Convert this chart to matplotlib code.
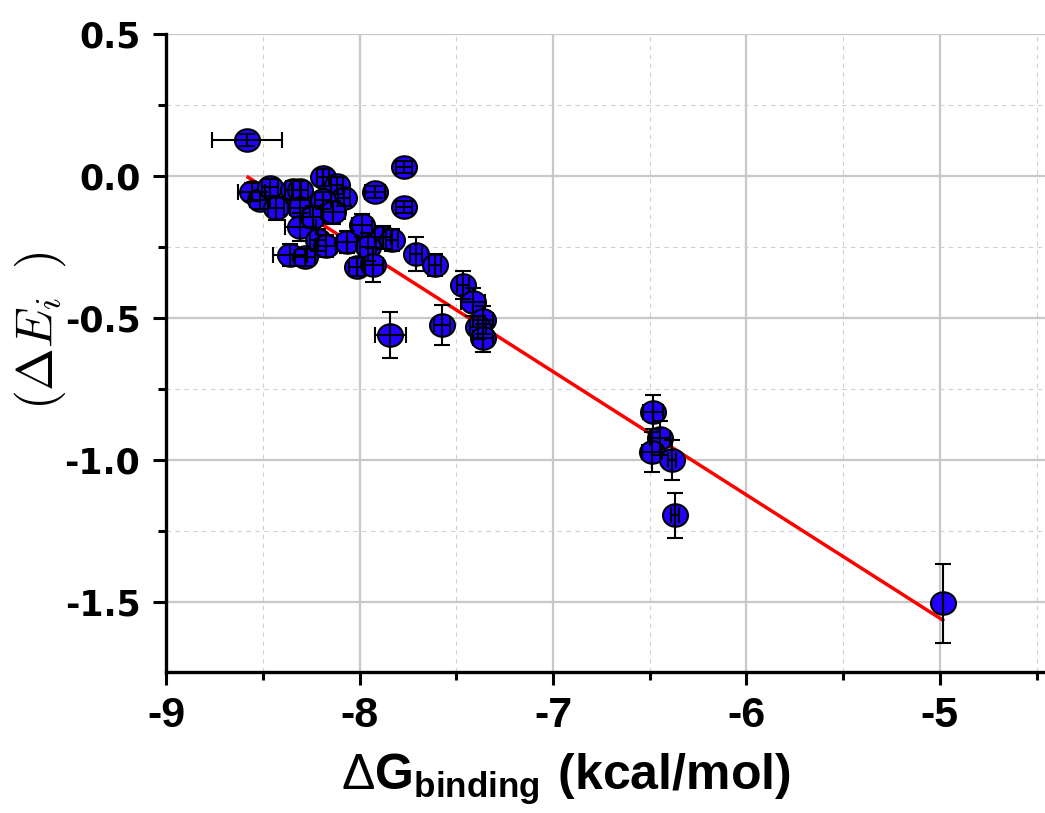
import matplotlib
matplotlib.use("Agg")
import matplotlib.pyplot as plt
import numpy as np
from matplotlib.path import Path
from matplotlib.ticker import MultipleLocator

# Данные
dg = [-8.581, -8.556, -8.514, -8.463, -8.432, -8.344, -8.307, -8.307, -8.307, -8.359,
      -8.282, -8.189, -8.116, -8.080, -8.189, -8.240, -8.137, -8.214, -8.173, -8.065,
      -7.987, -7.920, -7.879, -7.832, -7.956, -8.013, -7.930, -7.770, -7.770, -7.708,
      -7.610, -7.842, -7.574, -7.465, -7.413, -7.362, -7.388, -7.362, -6.483, -6.447,
      -6.488, -6.385, -6.370, -4.984]
de = [0.127, -0.056, -0.085, -0.039, -0.113, -0.049, -0.049, -0.113, -0.180, -0.278,
      -0.285, -0.004, -0.032, -0.077, -0.085, -0.144, -0.127, -0.225, -0.246, -0.232,
      -0.173, -0.056, -0.215, -0.225, -0.250, -0.320, -0.313, 0.032, -0.109, -0.275,
      -0.313, -0.560, -0.525, -0.384, -0.444, -0.507, -0.532, -0.570, -0.831, -0.923,
      -0.972, -1.000, -1.194, -1.504]
dg_err = [0.18, 0.07, 0.05, 0.04, 0.04, 0.04, 0.04, 0.05, 0.08, 0.09,
          0.05, 0.03, 0.03, 0.03, 0.04, 0.05, 0.06, 0.04, 0.05, 0.05,
          0.05, 0.05, 0.04, 0.03, 0.04, 0.04, 0.05, 0.04, 0.04, 0.03,
          0.03, 0.08, 0.04, 0.03, 0.06, 0.05, 0.04, 0.05, 0.05, 0.05,
          0.05, 0.02, 0.02, 0.0]
de_err = [0.02, 0.03, 0.03, 0.03, 0.04, 0.03, 0.03, 0.03, 0.05, 0.04,
          0.03, 0.03, 0.03, 0.03, 0.03, 0.04, 0.04, 0.04, 0.04, 0.04,
          0.04, 0.02, 0.04, 0.04, 0.05, 0.03, 0.06, 0.02, 0.02, 0.06,
          0.04, 0.08, 0.07, 0.05, 0.05, 0.05, 0.04, 0.05, 0.06, 0.06,
          0.07, 0.07, 0.08, 0.14]

# Линия аппроксимации (концы)
fit_x = [-8.576, -4.985]
fit_y = [-0.004, -1.563]

# слегка вытянутый кружок
circ = Path.unit_circle()
ellipse = Path(circ.vertices * np.array([1.0, 0.9]), circ.codes)

plt.rcParams["mathtext.fontset"] = "custom"
plt.rcParams["mathtext.rm"] = "Liberation Sans"
plt.rcParams["mathtext.bf"] = "Liberation Sans:bold"

fig = plt.figure(figsize=(10.45, 8.13), dpi=100)
ax = fig.add_axes([0.1589, 0.1734, 0.841, 0.7847])

ax.plot(fit_x, fit_y, color="#ff0000", lw=2.5, zorder=2)
ax.plot(dg, de, linestyle="none", marker=ellipse, markersize=18,
        markerfacecolor="#2200ff", markeredgecolor="black", markeredgewidth=1.5, zorder=3)
ax.errorbar(dg, de, xerr=dg_err, yerr=de_err, fmt="none", ecolor="black",
            elinewidth=1.5, capsize=5.5, capthick=1.5, zorder=4)

ax.set_xlim(-9, -4.457)
ax.set_ylim(-1.746, 0.5)
ax.xaxis.set_major_locator(MultipleLocator(1))
ax.xaxis.set_minor_locator(MultipleLocator(0.5))
ax.yaxis.set_major_locator(MultipleLocator(0.5))
ax.yaxis.set_minor_locator(MultipleLocator(0.25))

ax.grid(True, which="major", color="#c8c8c8", lw=1.6, zorder=0)
ax.grid(True, which="minor", color="#d0d0d0", lw=0.8, linestyle=(0, (4, 4)), zorder=0)
ax.set_axisbelow(True)

for s in ["top", "right"]:
    ax.spines[s].set_visible(False)
for s in ["left", "bottom"]:
    ax.spines[s].set_linewidth(2.4)

ax.tick_params(which="major", direction="out", length=9.5, width=2.2)
ax.tick_params(which="minor", direction="out", length=5.5, width=2.2)
ax.tick_params(axis="x", pad=8)
ax.tick_params(axis="y", pad=9)

ax.set_xticks([-9, -8, -7, -6, -5])
ax.set_xticklabels(["-9", "-8", "-7", "-6", "-5"], fontfamily="Liberation Sans",
                   fontweight="bold", fontsize=31)
yt = [0.5, 0.0, -0.5, -1.0, -1.5]
ax.set_yticks(yt)
ax.set_yticklabels(["%.1f" % v for v in yt], fontfamily="DejaVu Sans",
                   fontweight="bold", fontsize=25)

fig.text(566 / 1045, 1 - 790 / 813,
         r"$\mathrm{\Delta}\mathbf{G}_{\mathbf{binding}}\ \mathbf{(kcal/mol)}$",
         ha="center", va="baseline", fontsize=36, math_fontfamily="custom")
fig.text(40 / 1045, 1 - 331 / 813, r"$(\Delta E_i\;\;)$", rotation=90,
         ha="center", va="center", fontsize=37, math_fontfamily="cm")

fig.savefig("out.png", dpi=100)
